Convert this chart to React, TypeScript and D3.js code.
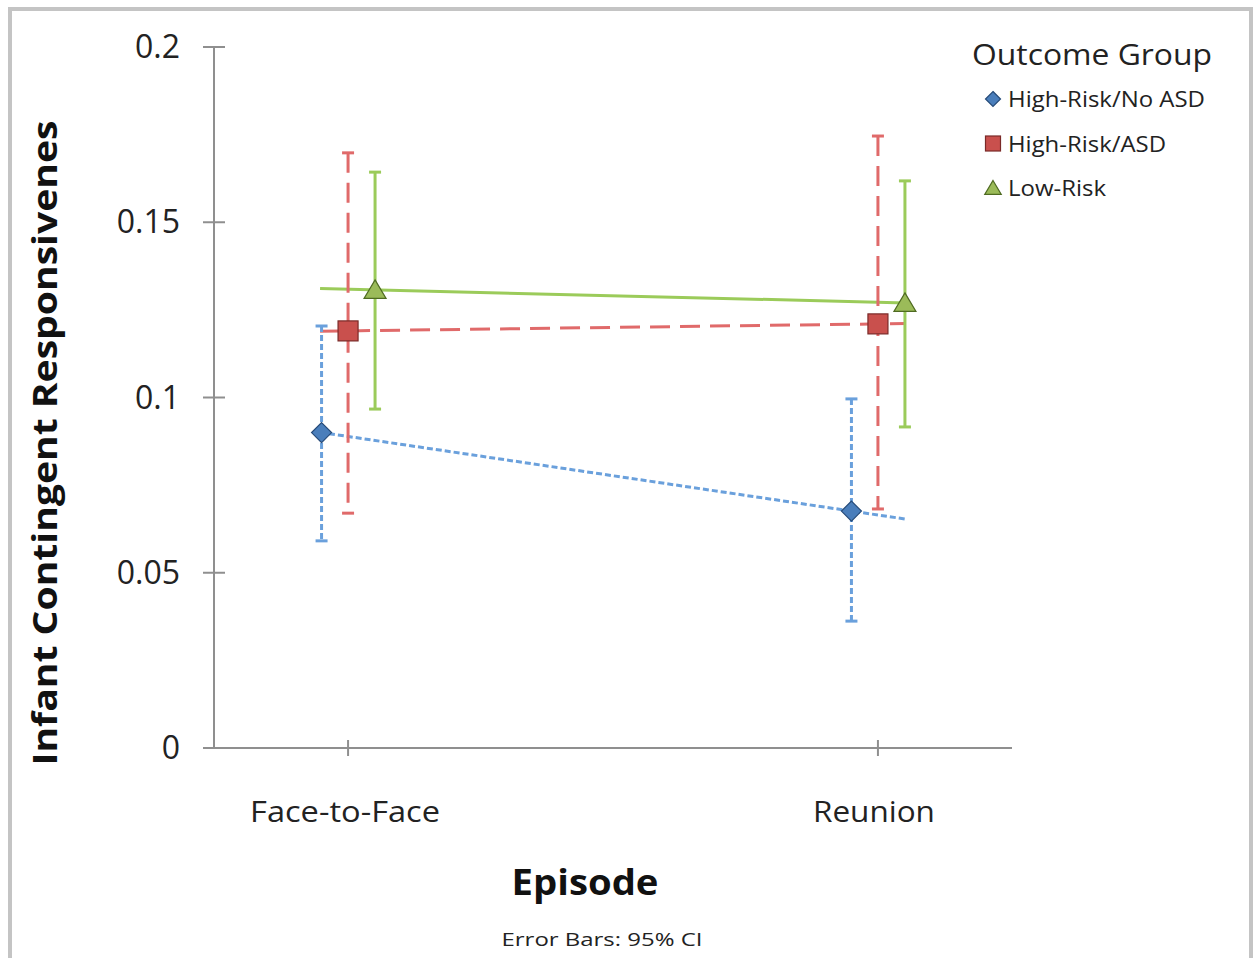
import React from "react";
import * as d3 from "d3";

const categories = ["Face-to-Face", "Reunion"];
const seriesNames = ["High-Risk/No ASD", "High-Risk/ASD", "Low-Risk"];
const noAsdMean = [0.090, 0.0676];
const noAsdLow = [0.0591, 0.0362];
const noAsdHigh = [0.1204, 0.0996];
const asdMean = [0.119, 0.121];
const asdLow = [0.067, 0.0682];
const asdHigh = [0.1698, 0.1746];
const lowRiskMean = [0.1307, 0.127];
const lowRiskLow = [0.0967, 0.0916];
const lowRiskHigh = [0.1643, 0.1618];
const yTicks = [0, 0.05, 0.1, 0.15, 0.2];

const W = 1256;
const H = 958;
const left = 214;
const right = 1012;
const top = 47;
const bottom = 748;

const FONT = "'Open Sans', 'Noto Sans', sans-serif";

type Series = {
  name: string;
  mean: number[];
  lo: number[];
  hi: number[];
  offset: number;
  line: string;
  fill: string;
  edge: string;
  dash: string | undefined;
  width: number;
  shape: "diamond" | "square" | "triangle";
};

const series: Series[] = [
  { name: seriesNames[0], mean: noAsdMean, lo: noAsdLow, hi: noAsdHigh, offset: -26.5, line: "#6aa0dc", fill: "#4a7ebb", edge: "#254a78", dash: "6 3", width: 3, shape: "diamond" },
  { name: seriesNames[1], mean: asdMean, lo: asdLow, hi: asdHigh, offset: 0, line: "#e06a6a", fill: "#c9504d", edge: "#7a2a28", dash: "20 10", width: 3, shape: "square" },
  { name: seriesNames[2], mean: lowRiskMean, lo: lowRiskLow, hi: lowRiskHigh, offset: 27, line: "#9bcb5a", fill: "#9bbb59", edge: "#4f6b22", dash: undefined, width: 3, shape: "triangle" },
];

const legendWidths = [197, 158, 98];
const categoryWidths = [190, 122];

function Marker({ shape, x, y, s, fill, edge }: { shape: string; x: number; y: number; s: number; fill: string; edge: string }) {
  if (shape === "diamond") {
    const p = d3.path();
    p.moveTo(x, y - s);
    p.lineTo(x + s, y);
    p.lineTo(x, y + s);
    p.lineTo(x - s, y);
    p.closePath();
    return <path d={p.toString()} fill={fill} stroke={edge} strokeWidth={1.2} />;
  }
  if (shape === "square") {
    return <rect x={x - s} y={y - s} width={2 * s} height={2 * s} fill={fill} stroke={edge} strokeWidth={1.2} />;
  }
  const p = d3.path();
  p.moveTo(x, y - s);
  p.lineTo(x + s * 1.1, y + s * 0.85);
  p.lineTo(x - s * 1.1, y + s * 0.85);
  p.closePath();
  return <path d={p.toString()} fill={fill} stroke={edge} strokeWidth={1.2} />;
}

export default function App() {
  const x = d3.scalePoint<string>().domain(categories).range([left, right]).padding(0.253);
  const y = d3.scaleLinear().domain([0, 0.2]).range([bottom, top]);
  const axisColor = "#8f8f8f";

  return (
    <div style={{ position: "absolute", left: 0, top: 0, width: W, height: H, background: "#fff" }}>
      <svg width={W} height={H} style={{ display: "block" }}>
        <rect x={10} y={9} width={1241} height={H + 20} fill="#fff" stroke="#c4c4c4" strokeWidth={4} />

        {/* y axis */}
        <line x1={left} x2={left} y1={top} y2={bottom} stroke={axisColor} strokeWidth={2} />
        {yTicks.map((t) => (
          <g key={t}>
            <line x1={left - 11} x2={left + 11} y1={y(t)} y2={y(t)} stroke={axisColor} strokeWidth={2} />
            <text x={180} y={y(t) + 11} textAnchor="end" fontFamily={FONT} fontSize={32} fill="#222">
              {String(t)}
            </text>
          </g>
        ))}

        {/* x axis */}
        <line x1={203} x2={right} y1={bottom} y2={bottom} stroke={axisColor} strokeWidth={2} />
        {categories.map((c, i) => (
          <g key={c}>
            <line x1={x(c)!} x2={x(c)!} y1={bottom - 8} y2={bottom + 8} stroke={axisColor} strokeWidth={2} />
            <text x={x(c)! + (i === 0 ? -3 : -4)} y={bottom + 74} textAnchor="middle" fontFamily={FONT} fontSize={29} fill="#222" textLength={categoryWidths[i]} lengthAdjust="spacingAndGlyphs">
              {c}
            </text>
          </g>
        ))}

        {/* series lines */}
        {series.map((s) => {
          const x0 = x(categories[0])! + s.offset;
          const x1 = x(categories[1])! + s.offset;
          const lin = d3.scaleLinear().domain([x0, x1]).range([s.mean[0], s.mean[1]]);
          const xs = x(categories[0])! - 28;
          const xe = x(categories[1])! + 28;
          const path = d3.line<number>().x((d) => d).y((d) => y(lin(d)))([xs, xe]);
          return <path key={s.name} d={path!} fill="none" stroke={s.line} strokeWidth={s.width} strokeDasharray={s.dash} />;
        })}

        {/* error bars */}
        {series.map((s) =>
          categories.map((c, i) => {
            const cx = x(c)! + s.offset;
            return (
              <g key={s.name + c}>
                <line x1={cx} x2={cx} y1={y(s.hi[i])} y2={y(s.lo[i])} stroke={s.line} strokeWidth={s.width} strokeDasharray={s.dash} />
                <line x1={cx - 6} x2={cx + 6} y1={y(s.hi[i])} y2={y(s.hi[i])} stroke={s.line} strokeWidth={s.width} />
                <line x1={cx - 6} x2={cx + 6} y1={y(s.lo[i])} y2={y(s.lo[i])} stroke={s.line} strokeWidth={s.width} />
              </g>
            );
          })
        )}

        {/* markers */}
        {series.map((s) =>
          categories.map((c, i) => (
            <Marker key={s.name + c + "m"} shape={s.shape} x={x(c)! + s.offset} y={y(s.mean[i])} s={10} fill={s.fill} edge={s.edge} />
          ))
        )}

        {/* axis titles */}
        <text transform="translate(57,443) rotate(-90)" textAnchor="middle" fontFamily={FONT} fontWeight="bold" fontSize={34} fill="#111" textLength={645} lengthAdjust="spacingAndGlyphs">
          Infant Contingent Responsivenes
        </text>
        <text x={585} y={895} textAnchor="middle" fontFamily={FONT} fontWeight="bold" fontSize={36} fill="#111" textLength={147} lengthAdjust="spacingAndGlyphs">
          Episode
        </text>
        <text x={602} y={946} textAnchor="middle" fontFamily={FONT} fontSize={19} fill="#222" textLength={201} lengthAdjust="spacingAndGlyphs">
          Error Bars: 95% CI
        </text>

        {/* legend */}
        <text x={972} y={65} fontFamily={FONT} fontSize={29} fill="#222" textLength={240} lengthAdjust="spacingAndGlyphs">
          Outcome Group
        </text>
        {series.map((s, i) => {
          const cy = 99 + i * 44.5;
          return (
            <g key={s.name + "leg"}>
              <Marker shape={s.shape} x={993} y={cy} s={7.5} fill={s.fill} edge={s.edge} />
              <text x={1008} y={cy + 8} fontFamily={FONT} fontSize={22} fill="#222" textLength={legendWidths[i]} lengthAdjust="spacingAndGlyphs">
                {s.name}
              </text>
            </g>
          );
        })}
      </svg>
    </div>
  );
}
